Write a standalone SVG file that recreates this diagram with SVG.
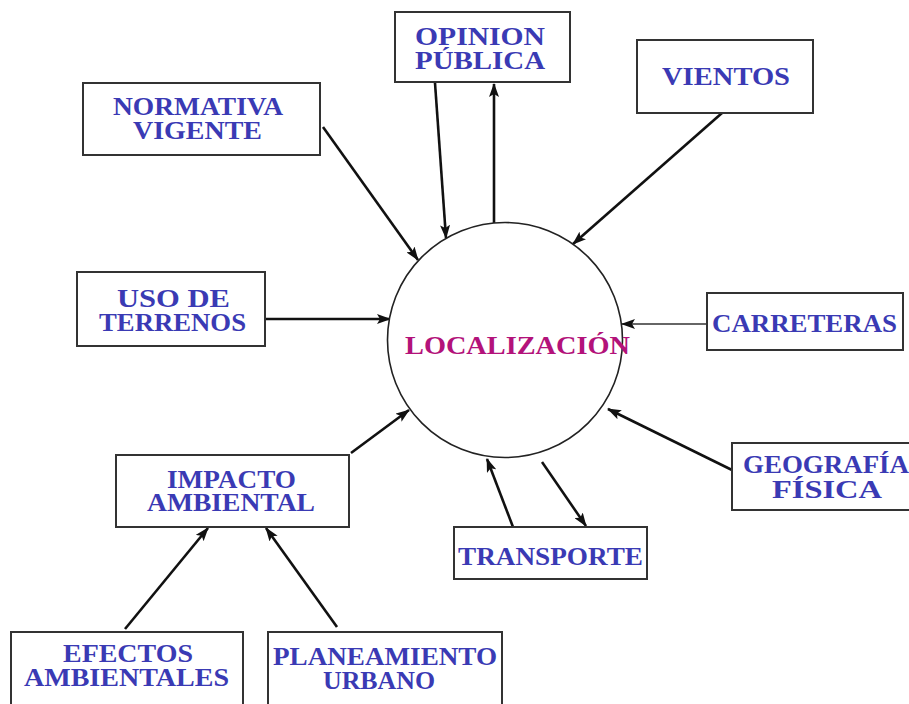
<svg xmlns="http://www.w3.org/2000/svg" width="909" height="704" viewBox="0 0 909 704">
  <style>
    .box { fill: #ffffff; stroke: #333333; stroke-width: 2; }
    .lbl { font-family: "Liberation Serif", "Times New Roman", serif; font-weight: bold; font-size: 25px; fill: #3a3ab4; text-anchor: middle; }
    .hub { font-family: "Liberation Serif", "Times New Roman", serif; font-weight: bold; font-size: 25px; fill: #b3127a; text-anchor: middle; }
    .edge { stroke: #111111; stroke-width: 2.6; fill: none; marker-end: url(#arrow); }
    .thin { stroke: #666666; stroke-width: 2; }
  </style>
  <defs>
    <marker id="arrow" markerWidth="14" markerHeight="10" refX="13" refY="5" orient="auto" markerUnits="userSpaceOnUse">
      <path d="M0,0 L14,5 L0,10 L3,5 Z" fill="#111111"/>
    </marker>
  </defs>
  <rect width="909" height="704" fill="#ffffff"/>

  <!-- connectors -->
  <g id="connectors">
    <line class="edge" x1="435" y1="83" x2="446" y2="238"/>
    <line class="edge" x1="494" y1="223" x2="494" y2="84"/>
    <line class="edge" x1="722" y1="113" x2="573" y2="244"/>
    <line class="edge" x1="323" y1="127" x2="418" y2="260"/>
    <line class="edge" x1="265" y1="319" x2="390" y2="319"/>
    <line class="edge thin" x1="707" y1="324" x2="622" y2="324"/>
    <line class="edge" x1="732" y1="470" x2="608" y2="409"/>
    <line class="edge" x1="351" y1="453" x2="409" y2="410"/>
    <line class="edge" x1="125" y1="629" x2="208" y2="528"/>
    <line class="edge" x1="337" y1="627" x2="266" y2="528"/>
    <line class="edge" x1="513" y1="527" x2="487" y2="459"/>
    <line class="edge" x1="542" y1="462" x2="586" y2="526"/>
  </g>

  <!-- central node -->
  <g id="localizacion">
    <circle cx="505" cy="340" r="117.5" fill="#ffffff" stroke="#222222" stroke-width="1.6"/>
    <text class="hub" x="517.5" y="354" textLength="225" lengthAdjust="spacingAndGlyphs">LOCALIZACIÓN</text>
  </g>

  <g id="opinion">
    <rect class="box" x="395" y="12" width="175" height="70"/>
    <text class="lbl" x="480" y="45" textLength="130" lengthAdjust="spacingAndGlyphs">OPINION</text>
    <text class="lbl" x="480" y="69" textLength="130" lengthAdjust="spacingAndGlyphs">PÚBLICA</text>
  </g>

  <g id="normativa">
    <rect class="box" x="83" y="83" width="237" height="72"/>
    <text class="lbl" x="198" y="115" textLength="170" lengthAdjust="spacingAndGlyphs">NORMATIVA</text>
    <text class="lbl" x="197.5" y="139" textLength="129" lengthAdjust="spacingAndGlyphs">VIGENTE</text>
  </g>

  <g id="vientos">
    <rect class="box" x="637" y="40" width="176" height="73"/>
    <text class="lbl" x="726" y="85" textLength="128" lengthAdjust="spacingAndGlyphs">VIENTOS</text>
  </g>

  <g id="uso">
    <rect class="box" x="77" y="272" width="188" height="74"/>
    <text class="lbl" x="173.5" y="307" textLength="113" lengthAdjust="spacingAndGlyphs">USO DE</text>
    <text class="lbl" x="172.5" y="331" textLength="147" lengthAdjust="spacingAndGlyphs">TERRENOS</text>
  </g>

  <g id="carreteras">
    <rect class="box" x="707" y="293" width="196" height="57"/>
    <text class="lbl" x="804.5" y="332" textLength="185" lengthAdjust="spacingAndGlyphs">CARRETERAS</text>
  </g>

  <g id="geografia">
    <rect class="box" x="732" y="443" width="190" height="67"/>
    <text class="lbl" x="826" y="473" textLength="166" lengthAdjust="spacingAndGlyphs">GEOGRAFÍA</text>
    <text class="lbl" x="827" y="498" textLength="110" lengthAdjust="spacingAndGlyphs">FÍSICA</text>
  </g>

  <g id="impacto">
    <rect class="box" x="116" y="455" width="233" height="72"/>
    <text class="lbl" x="231.5" y="488" textLength="129" lengthAdjust="spacingAndGlyphs">IMPACTO</text>
    <text class="lbl" x="231" y="511" textLength="168" lengthAdjust="spacingAndGlyphs">AMBIENTAL</text>
  </g>

  <g id="transporte">
    <rect class="box" x="454" y="527" width="193" height="52"/>
    <text class="lbl" x="550.5" y="565" textLength="185" lengthAdjust="spacingAndGlyphs">TRANSPORTE</text>
  </g>

  <g id="efectos">
    <rect class="box" x="11" y="632" width="232" height="80"/>
    <text class="lbl" x="128" y="662" textLength="130" lengthAdjust="spacingAndGlyphs">EFECTOS</text>
    <text class="lbl" x="126.5" y="686" textLength="205" lengthAdjust="spacingAndGlyphs">AMBIENTALES</text>
  </g>

  <g id="planeamiento">
    <rect class="box" x="268" y="632" width="234" height="80"/>
    <text class="lbl" x="385" y="665" textLength="224" lengthAdjust="spacingAndGlyphs">PLANEAMIENTO</text>
    <text class="lbl" x="379" y="689" textLength="112" lengthAdjust="spacingAndGlyphs">URBANO</text>
  </g>
</svg>
